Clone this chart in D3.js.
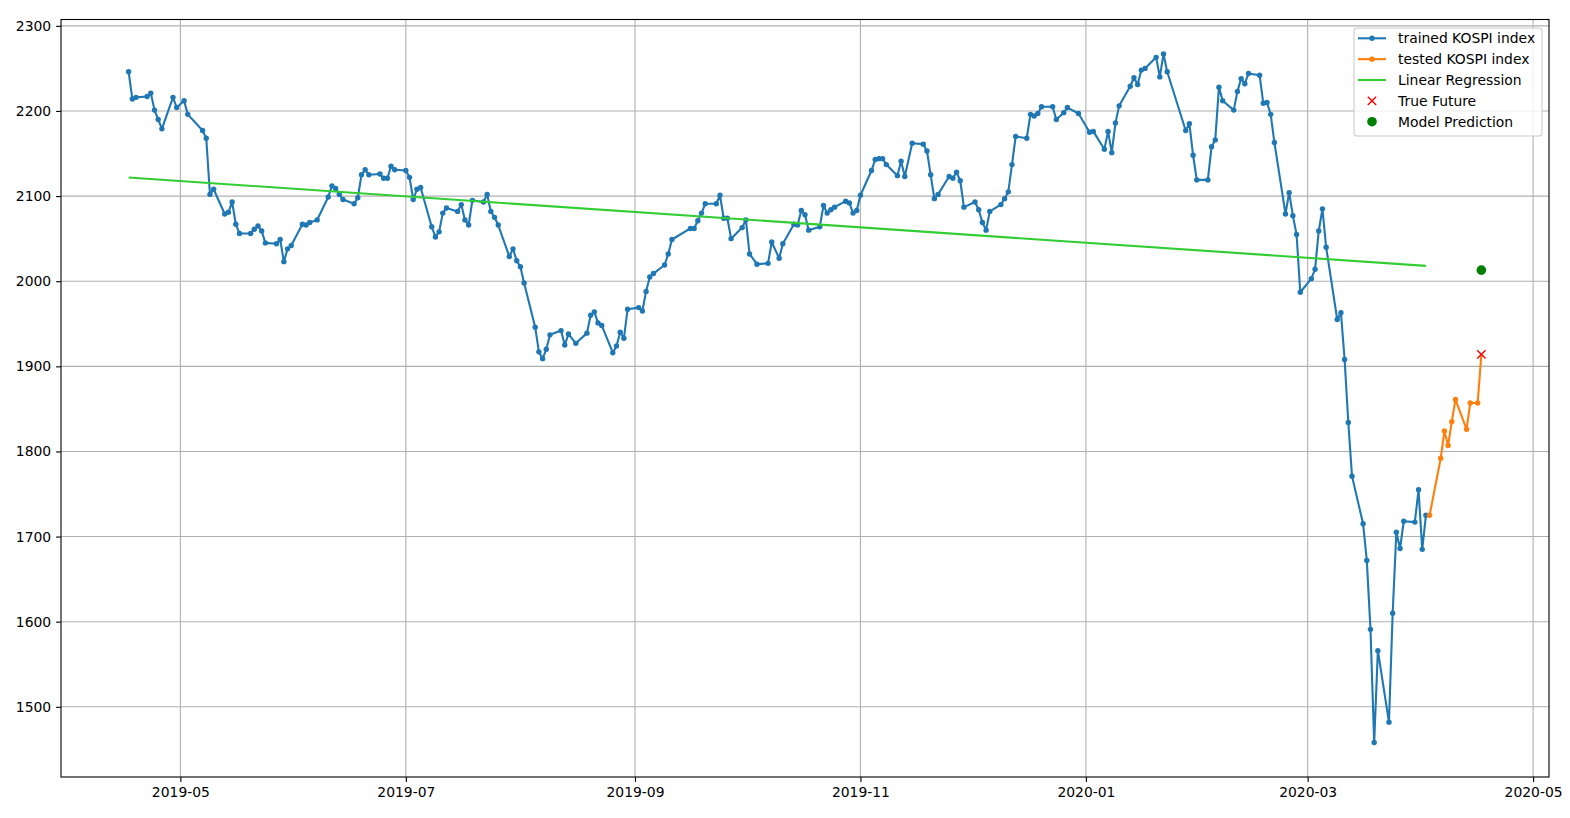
<!DOCTYPE html>
<html>
<head>
<meta charset="utf-8">
<script src="https://cdn.jsdelivr.net/npm/d3@7"></script>
<style>
  html, body { margin: 0; padding: 0; background: #fff; }
  svg { display: block; font-family: "DejaVu Sans", sans-serif; }
</style>
</head>
<body>
<div id="chart"></div>
<script>
// KOSPI closes, trained part (one line per month)
var trainDates = [
  "2019-04-17","2019-04-18","2019-04-19","2019-04-22","2019-04-23","2019-04-24","2019-04-25","2019-04-26","2019-04-29","2019-04-30",
  "2019-05-02","2019-05-03","2019-05-07","2019-05-08","2019-05-09","2019-05-10","2019-05-13","2019-05-14","2019-05-15","2019-05-16","2019-05-17","2019-05-20","2019-05-21","2019-05-22","2019-05-23","2019-05-24","2019-05-27","2019-05-28","2019-05-29","2019-05-30","2019-05-31",
  "2019-06-03","2019-06-04","2019-06-05","2019-06-07","2019-06-10","2019-06-11","2019-06-12","2019-06-13","2019-06-14","2019-06-17","2019-06-18","2019-06-19","2019-06-20","2019-06-21","2019-06-24","2019-06-25","2019-06-26","2019-06-27","2019-06-28",
  "2019-07-01","2019-07-02","2019-07-03","2019-07-04","2019-07-05","2019-07-08","2019-07-09","2019-07-10","2019-07-11","2019-07-12","2019-07-15","2019-07-16","2019-07-17","2019-07-18","2019-07-19","2019-07-22","2019-07-23","2019-07-24","2019-07-25","2019-07-26","2019-07-29","2019-07-30","2019-07-31",
  "2019-08-01","2019-08-02","2019-08-05","2019-08-06","2019-08-07","2019-08-08","2019-08-09","2019-08-12","2019-08-13","2019-08-14","2019-08-16","2019-08-19","2019-08-20","2019-08-21","2019-08-22","2019-08-23","2019-08-26","2019-08-27","2019-08-28","2019-08-29","2019-08-30",
  "2019-09-02","2019-09-03","2019-09-04","2019-09-05","2019-09-06","2019-09-09","2019-09-10","2019-09-11","2019-09-16","2019-09-17","2019-09-18","2019-09-19","2019-09-20","2019-09-23","2019-09-24","2019-09-25","2019-09-26","2019-09-27","2019-09-30",
  "2019-10-01","2019-10-02","2019-10-04","2019-10-07","2019-10-08","2019-10-10","2019-10-11","2019-10-14","2019-10-15","2019-10-16","2019-10-17","2019-10-18","2019-10-21","2019-10-22","2019-10-23","2019-10-24","2019-10-25","2019-10-28","2019-10-29","2019-10-30","2019-10-31",
  "2019-11-01","2019-11-04","2019-11-05","2019-11-06","2019-11-07","2019-11-08","2019-11-11","2019-11-12","2019-11-13","2019-11-15","2019-11-18","2019-11-19","2019-11-20","2019-11-21","2019-11-22","2019-11-25","2019-11-26","2019-11-27","2019-11-28","2019-11-29",
  "2019-12-02","2019-12-03","2019-12-04","2019-12-05","2019-12-06","2019-12-09","2019-12-10","2019-12-11","2019-12-12","2019-12-13","2019-12-16","2019-12-17","2019-12-18","2019-12-19","2019-12-20","2019-12-23","2019-12-24","2019-12-26","2019-12-27","2019-12-30",
  "2020-01-02","2020-01-03","2020-01-06","2020-01-07","2020-01-08","2020-01-09","2020-01-10","2020-01-13","2020-01-14","2020-01-15","2020-01-16","2020-01-17","2020-01-20","2020-01-21","2020-01-22","2020-01-23","2020-01-28","2020-01-29","2020-01-30","2020-01-31",
  "2020-02-03","2020-02-04","2020-02-05","2020-02-06","2020-02-07","2020-02-10","2020-02-11","2020-02-12","2020-02-13","2020-02-14","2020-02-17","2020-02-18","2020-02-19","2020-02-20","2020-02-21","2020-02-24","2020-02-25","2020-02-26","2020-02-27","2020-02-28",
  "2020-03-02","2020-03-03","2020-03-04","2020-03-05","2020-03-06","2020-03-09","2020-03-10","2020-03-11","2020-03-12","2020-03-13","2020-03-16","2020-03-17","2020-03-18","2020-03-19","2020-03-20","2020-03-23","2020-03-24","2020-03-25","2020-03-26","2020-03-27","2020-03-30","2020-03-31",
  "2020-04-01","2020-04-02"
];
var trainValues = [
  2246,2214,2216,2217,2221,2201,2190,2179,2216,2204,
  2212,2196,2177,2168,2102,2108,2079,2081,2093,2067,2056,2056,2061,2065,2059,2045,2044,2049,2023,2038,2042,
  2067,2066,2069,2072,2099,2112,2109,2102,2096,2091,2098,2125,2131,2125,2126,2121,2121,2135,2131,
  2130,2122,2096,2108,2110,2064,2052,2058,2080,2086,2082,2090,2072,2066,2095,2093,2102,2082,2075,2066,2029,2038,2024,
  2017,1998,1946,1917,1909,1920,1937,1942,1925,1938,1927,1939,1960,1964,1951,1948,1916,1924,1940,1933,1967,
  1969,1965,1988,2005,2009,2019,2032,2049,2062,2062,2071,2080,2091,2091,2101,2074,2074,2050,2063,
  2072,2032,2020,2021,2046,2027,2044,2067,2066,2083,2078,2060,2064,2089,2080,2084,2087,2094,2092,2080,2083,
  2101,2130,2143,2144,2144,2137,2124,2141,2123,2162,2161,2153,2125,2097,2102,2123,2121,2128,2118,2087,
  2093,2084,2069,2060,2082,2090,2097,2105,2137,2170,2168,2196,2194,2197,2205,2205,2190,2198,2204,2197,
  2175,2176,2155,2176,2151,2186,2206,2229,2239,2231,2248,2250,2263,2240,2267,2246,2177,2185,2148,2119,
  2119,2158,2166,2228,2212,2201,2223,2238,2232,2244,2242,2209,2210,2196,2163,2079,2104,2077,2055,1987,
  2003,2014,2059,2085,2040,1955,1963,1908,1834,1771,1715,1672,1591,1458,1566,1482,1610,1705,1686,1718,1717,1755,
  1685,1725
];

// tested part (its line runs on to the true future point)
var testDates = ["2020-04-03","2020-04-06","2020-04-07","2020-04-08","2020-04-09","2020-04-10","2020-04-13","2020-04-14","2020-04-16"];
var testValues = [1725,1792,1824,1807,1835,1861,1826,1857,1857];

// regression line ends
var regDates = ["2019-04-17","2020-04-02"];
var regValues = [2121.8,2018];

var futureDates = ["2020-04-17"];
var futureValues = [1914];
var predDates = ["2020-04-17"];
var predValues = [2013];

var yTicks = [1500,1600,1700,1800,1900,2000,2100,2200,2300];

var W = 1570, H = 818;
var margin = {top: 19.5, right: 21, bottom: 41, left: 61};
var iw = W - margin.left - margin.right,
    ih = H - margin.top - margin.bottom;
var FONT = 13.9;
var BLUE = '#1f77b4', ORANGE = '#ff7f0e', LIME = '#32cd32';

var parse = d3.utcParse('%Y-%m-%d');
function pack(ds, vs) {
    return ds.map(function(d, i) { return {date: parse(d), value: vs[i]}; });
}
var train = pack(trainDates, trainValues),
    test = pack(testDates, testValues),
    reg = pack(regDates, regValues),
    future = pack(futureDates, futureValues),
    pred = pack(predDates, predValues);

var all = train.concat(test, future);
var xExt = d3.extent(all, function(d) { return d.date; });
var span = xExt[1] - xExt[0];
var x = d3.scaleUtc()
    .domain([new Date(+xExt[0] - span * 0.05), new Date(+xExt[1] + span * 0.05)])
    .range([0, iw]);

var yVals = all.concat(pred).map(function(d) { return d.value; });
var yMin = d3.min(yVals), yMax = d3.max(yVals), yr = yMax - yMin;
var y = d3.scaleLinear()
    .domain([yMin - yr * 0.05, yMax + yr * 0.05])
    .range([ih, 0]);

var svg = d3.select('#chart').append('svg').attr('width', W).attr('height', H);
var g = svg.append('g').attr('transform', 'translate(' + margin.left + ',' + margin.top + ')');

var xTicks = x.ticks(d3.utcMonth.every(2));

// grid
g.append('g').selectAll('line').data(xTicks).enter().append('line')
    .attr('x1', function(d) { return x(d); }).attr('x2', function(d) { return x(d); })
    .attr('y1', 0).attr('y2', ih)
    .attr('stroke', '#b0b0b0').attr('stroke-width', 1.1);
g.append('g').selectAll('line').data(yTicks).enter().append('line')
    .attr('y1', function(d) { return y(d); }).attr('y2', function(d) { return y(d); })
    .attr('x1', 0).attr('x2', iw)
    .attr('stroke', '#b0b0b0').attr('stroke-width', 1.1);

// axes
var xAxis = d3.axisBottom(x).tickValues(xTicks).tickFormat(d3.utcFormat('%Y-%m'))
    .tickSizeInner(4.9).tickSizeOuter(0).tickPadding(4.9);
var yAxis = d3.axisLeft(y).tickValues(yTicks).tickFormat(d3.format('d'))
    .tickSizeInner(4.9).tickSizeOuter(0).tickPadding(4.9);

var gx = g.append('g').attr('transform', 'translate(0,' + ih + ')').call(xAxis);
var gy = g.append('g').call(yAxis);
[gx, gy].forEach(function(a) {
    a.select('.domain').remove();
    a.selectAll('.tick line').attr('stroke', '#000').attr('stroke-width', 1.1);
    a.selectAll('.tick text').attr('fill', '#000')
        .style('font-size', FONT + 'px').style('font-family', '"DejaVu Sans", sans-serif');
});

var line = d3.line()
    .x(function(d) { return x(d.date); })
    .y(function(d) { return y(d.value); });

function series(data, lineData, color) {
    g.append('path').datum(lineData)
        .attr('fill', 'none').attr('stroke', color)
        .attr('stroke-width', 2.1).attr('stroke-linejoin', 'round')
        .attr('d', line);
    g.append('g').selectAll('circle').data(data).enter().append('circle')
        .attr('cx', function(d) { return x(d.date); })
        .attr('cy', function(d) { return y(d.value); })
        .attr('r', 2.7).attr('fill', color);
}
series(train, train, BLUE);
series(test, test.concat(future), ORANGE);

g.append('path').datum(reg)
    .attr('fill', 'none').attr('stroke', LIME).attr('stroke-width', 2.1)
    .attr('d', line);

// true future (red x)
g.append('g').selectAll('path').data(future).enter().append('path')
    .attr('transform', function(d) { return 'translate(' + x(d.date) + ',' + y(d.value) + ')'; })
    .attr('d', 'M-4.2,-4.2L4.2,4.2M-4.2,4.2L4.2,-4.2')
    .attr('stroke', '#ff0000').attr('stroke-width', 1.4).attr('fill', 'none');

// model prediction (green dot)
g.append('g').selectAll('circle').data(pred).enter().append('circle')
    .attr('cx', function(d) { return x(d.date); })
    .attr('cy', function(d) { return y(d.value); })
    .attr('r', 4.8).attr('fill', '#008000');

// frame
g.append('rect').attr('width', iw).attr('height', ih)
    .attr('fill', 'none').attr('stroke', '#000').attr('stroke-width', 1.1);

// legend
var legendItems = [
    {label: 'trained KOSPI index', kind: 'linedot', color: BLUE},
    {label: 'tested KOSPI index', kind: 'linedot', color: ORANGE},
    {label: 'Linear Regression', kind: 'line', color: LIME},
    {label: 'True Future', kind: 'x', color: '#ff0000'},
    {label: 'Model Prediction', kind: 'dot', color: '#008000'}
];
var lg = svg.append('g').attr('transform', 'translate(1354,28)');
lg.append('rect').attr('width', 188).attr('height', 108).attr('rx', 3)
    .attr('fill', '#fff').attr('fill-opacity', 0.8)
    .attr('stroke', '#cccccc').attr('stroke-width', 1.1);
var rows = lg.selectAll('g.row').data(legendItems).enter().append('g')
    .attr('transform', function(d, i) { return 'translate(0,' + (10.3 + i * 20.85) + ')'; });
rows.each(function(d) {
    var r = d3.select(this);
    if (d.kind === 'linedot' || d.kind === 'line') {
        r.append('line').attr('x1', 4).attr('x2', 32).attr('y1', 0).attr('y2', 0)
            .attr('stroke', d.color).attr('stroke-width', 2.1);
    }
    if (d.kind === 'linedot') {
        r.append('circle').attr('cx', 18).attr('cy', 0).attr('r', 2.7).attr('fill', d.color);
    }
    if (d.kind === 'x') {
        r.append('path').attr('d', 'M13.8,-4.2L22.2,4.2M13.8,4.2L22.2,-4.2')
            .attr('stroke', d.color).attr('stroke-width', 1.4);
    }
    if (d.kind === 'dot') {
        r.append('circle').attr('cx', 18).attr('cy', 0).attr('r', 4.8).attr('fill', d.color);
    }
    r.append('text').attr('x', 44).attr('y', 0).attr('dy', '0.36em')
        .style('font-size', FONT + 'px').attr('fill', '#000')
        .text(d.label);
});
</script>
</body>
</html>
